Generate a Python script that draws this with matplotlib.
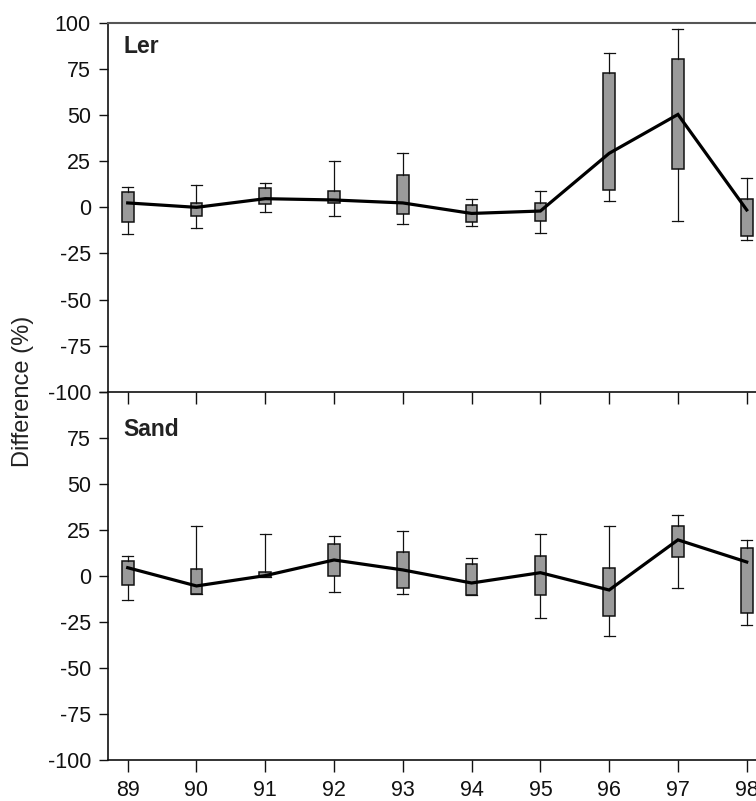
import matplotlib
matplotlib.use("Agg")
import matplotlib.pyplot as plt

plt.rcParams["font.family"] = ["Liberation Sans", "DejaVu Sans"]

years = [89, 90, 91, 92, 93, 94, 95, 96, 97, 98]
year_labels = ["89", "90", "91", "92", "93", "94", "95", "96", "97", "98"]

# Ler: box (q1, q3), whiskers (low, high) and the connecting centre value
ler_q1 = [-7.9, -4.9, 2.0, 2.2, -3.6, -8.2, -7.4, 9.2, 20.7, -15.5]
ler_q3 = [8.2, 2.4, 10.7, 9.1, 17.8, 1.5, 2.6, 72.8, 80.3, 4.3]
ler_lo = [-14.5, -11.2, -2.5, -4.9, -9.2, -9.9, -13.9, 3.6, -7.6, -17.7]
ler_hi = [10.9, 12.2, 13.0, 25.4, 29.3, 4.3, 9.1, 83.7, 96.6, 15.8]
ler_mid = [2.4, 0.0, 4.7, 4.0, 2.4, -3.3, -2.0, 29.3, 50.4, -1.4]

# Sand
sand_q1 = [-4.7, -10.0, -0.7, 0.0, -6.5, -10.1, -10.5, -21.7, 10.5, -20.3]
sand_q3 = [8.0, 4.0, 2.4, 17.4, 12.9, 6.3, 11.1, 4.3, 27.4, 15.4]
sand_lo = [-13.2, -10.0, -0.7, -8.7, -10.0, -10.1, -22.8, -32.3, -6.7, -26.5]
sand_hi = [10.7, 27.0, 22.6, 21.6, 24.5, 9.6, 22.8, 27.4, 33.2, 19.7]
sand_mid = [4.5, -5.4, 0.2, 8.7, 3.3, -3.8, 1.8, -7.6, 19.6, 7.6]

y_ticks = [100, 75, 50, 25, 0, -25, -50, -75, -100]

W, H = 756, 801
fig = plt.figure(figsize=(W / 100, H / 100), dpi=100)

x_lo, x_hi = 88.718, 98.5
px_per_unit = 68.78
ax_left = 108.3 / W
ax_width = (x_hi - x_lo) * px_per_unit / W

top_px, mid_px, bot_px = 23.0, 391.7, 760.3
ax1 = fig.add_axes([ax_left, 1 - mid_px / H, ax_width, (mid_px - top_px) / H])
ax2 = fig.add_axes([ax_left, 1 - bot_px / H, ax_width, (bot_px - mid_px) / H])

box_fill = "#9a9a9a"
ink = "#111111"


def draw_panel(ax, q1, q3, lo, hi, mid):
    stats = []
    for a, b, c, d, m in zip(q1, q3, lo, hi, mid):
        stats.append(dict(q1=a, q3=b, whislo=c, whishi=d, med=m, fliers=[]))
    ax.bxp(stats, positions=years, widths=0.17, capwidths=0.16,
           patch_artist=True, showfliers=False, manage_ticks=False,
           boxprops=dict(facecolor=box_fill, edgecolor=ink, linewidth=1.1),
           whiskerprops=dict(color=ink, linewidth=0.9),
           capprops=dict(color=ink, linewidth=0.9),
           medianprops=dict(linewidth=0))
    ax.plot(years, mid, color="black", linewidth=2.3, zorder=5,
            solid_joinstyle="miter")
    ax.set_xlim(x_lo, x_hi)
    ax.set_ylim(-100, 100)
    ax.set_yticks(y_ticks)
    ax.spines["right"].set_visible(False)
    for s in ("left", "bottom", "top"):
        ax.spines[s].set_linewidth(1.2)
        ax.spines[s].set_color(ink)
    ax.tick_params(axis="y", direction="out", length=6.5, width=1.0,
                   pad=6, labelsize=15.5, colors=ink)


draw_panel(ax1, ler_q1, ler_q3, ler_lo, ler_hi, ler_mid)
draw_panel(ax2, sand_q1, sand_q3, sand_lo, sand_hi, sand_mid)

# upper panel: all y labels, no x ticks, grey frame line on top
ax1.set_yticklabels([str(v) for v in y_ticks])
ax1.spines["bottom"].set_visible(False)
ax1.spines["top"].set_color("#555555")
ax1.spines["top"].set_linewidth(1.5)
ax1.tick_params(axis="x", bottom=False, top=False,
                labelbottom=False, labeltop=False)

# lower panel: drop the 100 label, ticks on both horizontal edges
ax2.set_yticklabels([""] + [str(v) for v in y_ticks[1:]])
ax2.set_xticks(years)
ax2.set_xticklabels(year_labels)
ax2.tick_params(axis="x", which="major", bottom=True, top=True,
                labelbottom=True, labeltop=False, length=8.6, width=1.0,
                pad=5.5, labelsize=15.5, colors=ink)
ax2.tick_params(axis="x", which="major", direction="out", bottom=True)
ax2.xaxis.set_tick_params(which="major", top=True)
for t in ax2.xaxis.get_major_ticks():
    t.tick2line.set_marker(3)  # top tick pointing into the panel
    t.tick2line.set_markersize(8.6)
    t.tick2line.set_markeredgewidth(1.0)

ax1.text(0.022, (mid_px - 52.7) / (mid_px - top_px), "Ler",
         transform=ax1.transAxes, fontsize=16.5, fontweight="bold",
         color="#222222", ha="left", va="baseline")
ax2.text(0.022, (bot_px - 436.0) / (bot_px - mid_px), "Sand",
         transform=ax2.transAxes, fontsize=16.5, fontweight="bold",
         color="#222222", ha="left", va="baseline")

fig.text(23 / W, 1 - 391 / H, "Difference (%)", rotation=90,
         fontsize=17, color="#222222", ha="center", va="center")

fig.savefig("out.png", dpi=100)
